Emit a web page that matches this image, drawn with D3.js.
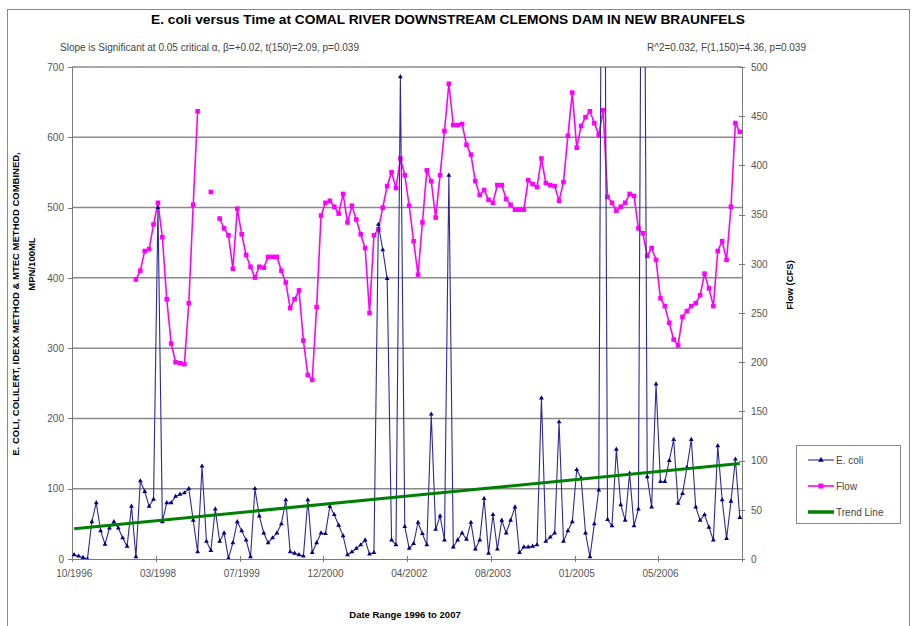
<!DOCTYPE html>
<meta charset="utf-8">
<style>
    body { margin: 0; background: #fff; }
    svg { display: block; font-family: "Liberation Sans", Arial, sans-serif; }
    .axis path, .axis line { stroke: #7a7a7a; shape-rendering: crispEdges; }
    .axis text { fill: #555; font-size: 10px; }
    .grid line { stroke: #8a8a8a; stroke-width: 1.5; }
</style>
<body>
<div id="chart-container"></div>
<script src="https://cdnjs.cloudflare.com/ajax/libs/d3/7.8.5/d3.min.js"></script>
<script>
    // E. coli samples, MPN/100mL, one per sampling date (category axis)
    var ecoli = [
        6, 4, 2, 0, 53, 80, 40, 21, 44, 53, 44, 30, 18, 75, 3, 111, 96, 75, 85, 500,
        53, 80, 80, 89, 92, 94, 100, 55, 10, 132, 25, 12, 71, 25, 37, 1, 23, 53,
        40, 27, 3, 100, 61, 37, 23, 30, 37, 50, 84, 10, 8, 6, 4, 84, 9, 23, 37,
        36, 75, 63, 48, 33, 6, 10, 15, 20, 27, 7, 9, 476, 440, 399, 27, 20, 686, 46,
        15, 22, 52, 36, 20, 206, 42, 61, 27, 546, 17, 27, 37, 28, 52, 14, 27, 86, 8,
        63, 14, 55, 37, 55, 74, 9, 17, 17, 18, 20, 229, 25, 31, 37, 195, 25, 40, 53,
        127, 115, 37, 3, 50, 98, 1400, 56, 47, 156, 77, 55, 122, 47, 71, 1400, 117, 74, 249,
        110, 110, 140, 170, 79, 93, 130, 170, 74, 55, 63, 45, 27, 161, 84, 29, 82, 142, 59
    ];
    // flow in CFS on the same dates, null where not measured
    var flow = [
        null, null, null, null, null, null, null, null, null, null, null, null, null, null,
        284, 293, 313, 315, 340, 362,
        327, 264, 219, 200, 199, 198, 260, 360, 455, null, null, 373, null, 346, 336, 329, 295, 356,
        330, 309, 297, 286, 297, 296, 307, 307, 307, 293, 281, 255, 264, 273, 222, 187, 182, 256, 349,
        362, 364, 358, 351, 371, 342, 359, 345, 330, 316, 250, 329, 335, 357, 379, 393, 377, 407, 390,
        359, 323, 289, 342, 395, 384, 347, 390, 435, 483, 441, 441, 442, 421, 411, 384, 370, 375, 365,
        362, 380, 380, 366, 360, 355, 355, 355, 385, 381, 378, 407, 382, 380, 379, 364, 383, 430, 474,
        418, 440, 449, 455, 443, 431, 456, 368, 362, 354, 358, 362, 371, 369, 336, 331, 308, 316, 304,
        265, 257, 240, 223, 217, 246, 252, 257, 260, 268, 290, 275, 257, 313, 323, 304, 358, 443, 434
    ];
    var dateLabels = ["10/1996", "03/1998", "07/1999", "12/2000", "04/2002", "08/2003", "01/2005", "05/2006"];
    var labelEvery = 19;
    // linear trend of E. coli, value at first and last sample
    var trendEnds = [43, 136];
    var leftTicks = [0, 100, 200, 300, 400, 500, 600, 700];
    var rightTicks = [0, 50, 100, 150, 200, 250, 300, 350, 400, 450, 500];

    var width = 915, height = 626;
    var plot = {left: 72, right: 742, top: 67, bottom: 559};

    var svg = d3.select("#chart-container").append("svg")
        .attr("width", width)
        .attr("height", height);

    // outer chart border
    svg.append("rect")
        .attr("x", 7.5).attr("y", 9.5)
        .attr("width", 902).attr("height", 640)
        .attr("fill", "#fff")
        .attr("stroke", "#8a8a8a");

    var n = ecoli.length;
    var x = d3.scaleBand().domain(d3.range(n)).range([plot.left, plot.right]);
    var xc = function(i) { return x(i) + x.bandwidth() / 2; };
    var xEdge = d3.scaleLinear().domain([0, n]).range([plot.left, plot.right]);
    var yL = d3.scaleLinear().domain([0, 700]).range([plot.bottom, plot.top]);
    var yR = d3.scaleLinear().domain([0, 500]).range([plot.bottom, plot.top]);

    // horizontal gridlines
    svg.append("g").attr("class", "grid")
        .selectAll("line")
        .data(leftTicks.slice(1))
        .enter().append("line")
        .attr("x1", plot.left).attr("x2", plot.right)
        .attr("y1", d => yL(d)).attr("y2", d => yL(d));

    // left axis
    svg.append("g").attr("class", "axis")
        .attr("transform", "translate(" + plot.left + ",0)")
        .call(d3.axisLeft(yL).tickValues(leftTicks).tickSize(4).tickPadding(4));

    // right axis, ticks cross the line
    var gR = svg.append("g").attr("class", "axis")
        .attr("transform", "translate(" + plot.right + ",0)")
        .call(d3.axisRight(yR).tickValues(rightTicks).tickSize(3).tickPadding(6));
    gR.selectAll(".tick line").attr("x1", -3);

    // bottom axis: tick marks at category boundaries, labels on categories
    var edgeTicks = d3.range(0, n + 1, labelEvery);
    var gB = svg.append("g").attr("class", "axis")
        .attr("transform", "translate(0," + plot.bottom + ")")
        .call(d3.axisBottom(xEdge).tickValues(edgeTicks).tickSize(3).tickFormat(""));
    gB.selectAll(".tick line").attr("y1", -3);
    var labelIdx = dateLabels.map((d, i) => i * labelEvery);
    svg.append("g").attr("class", "axis")
        .attr("transform", "translate(0," + plot.bottom + ")")
        .call(d3.axisBottom(x).tickValues(labelIdx).tickSize(0).tickPadding(11)
            .tickFormat((d, i) => dateLabels[i]))
        .call(g => g.select(".domain").remove());

    // clip series to plot area (spikes run off the top)
    svg.append("clipPath").attr("id", "plot-clip")
        .append("rect")
        .attr("x", plot.left).attr("y", plot.top)
        .attr("width", plot.right - plot.left).attr("height", plot.bottom - plot.top);
    var series = svg.append("g").attr("clip-path", "url(#plot-clip)");

    // flow line (magenta, gaps where no measurement)
    var flowLine = d3.line()
        .defined(d => d != null)
        .x((d, i) => xc(i))
        .y(d => yR(d));
    series.append("path")
        .datum(flow)
        .attr("fill", "none")
        .attr("stroke", "#ff00ff")
        .attr("stroke-width", 1.6)
        .attr("d", flowLine);
    series.append("g").selectAll("rect")
        .data(flow.map((v, i) => ({v: v, i: i})).filter(d => d.v != null))
        .enter().append("rect")
        .attr("x", d => xc(d.i) - 2.3)
        .attr("y", d => yR(d.v) - 2.3)
        .attr("width", 4.6).attr("height", 4.6)
        .attr("fill", "#ff00ff");

    // E. coli line (navy)
    var ecoliLine = d3.line()
        .x((d, i) => xc(i))
        .y(d => yL(d));
    series.append("path")
        .datum(ecoli)
        .attr("fill", "none")
        .attr("stroke", "#2a2a9a")
        .attr("stroke-width", 1.1)
        .attr("d", ecoliLine);
    series.append("g").selectAll("path")
        .data(ecoli)
        .enter().append("path")
        .attr("d", d3.symbol().type(d3.symbolTriangle).size(10))
        .attr("transform", (d, i) => "translate(" + xc(i) + "," + yL(d) + ")")
        .attr("fill", "#000080");

    // trend line
    series.append("line")
        .attr("x1", xc(0)).attr("y1", yL(trendEnds[0]))
        .attr("x2", xc(n - 1)).attr("y2", yL(trendEnds[1]))
        .attr("stroke", "#008000")
        .attr("stroke-width", 3);

    // titles
    svg.append("text")
        .attr("x", 448).attr("y", 24)
        .attr("text-anchor", "middle")
        .attr("font-size", 12.5).attr("font-weight", "bold")
        .attr("textLength", 594).attr("lengthAdjust", "spacingAndGlyphs")
        .text("E. coli versus Time at COMAL RIVER DOWNSTREAM CLEMONS DAM IN NEW BRAUNFELS");
    svg.append("text")
        .attr("x", 60).attr("y", 51)
        .attr("font-size", 10).attr("fill", "#444")
        .text("Slope is Significant at 0.05 critical α, β=+0.02, t(150)=2.09, p=0.039");
    svg.append("text")
        .attr("x", 806).attr("y", 51)
        .attr("text-anchor", "end")
        .attr("font-size", 10).attr("fill", "#444")
        .text("R^2=0.032, F(1,150)=4.36, p=0.039");

    svg.append("text")
        .attr("x", 405).attr("y", 618)
        .attr("text-anchor", "middle")
        .attr("font-size", 9.5).attr("font-weight", "bold")
        .text("Date Range 1996 to 2007");

    svg.append("text")
        .attr("transform", "translate(19,304) rotate(-90)")
        .attr("text-anchor", "middle")
        .attr("font-size", 9.5).attr("font-weight", "bold")
        .text("E. COLI, COLILERT, IDEXX METHOD & MTEC METHOD COMBINED,");
    svg.append("text")
        .attr("transform", "translate(35,264) rotate(-90)")
        .attr("text-anchor", "middle")
        .attr("font-size", 9.5).attr("font-weight", "bold")
        .text("MPN/100ML");

    svg.append("text")
        .attr("transform", "translate(793,285) rotate(-90)")
        .attr("text-anchor", "middle")
        .attr("font-size", 9.5).attr("font-weight", "bold")
        .text("Flow (CFS)");

    // legend
    var legend = svg.append("g");
    legend.append("rect")
        .attr("x", 796.5).attr("y", 445.5)
        .attr("width", 104).attr("height", 78)
        .attr("fill", "#fff").attr("stroke", "#8a8a8a");
    var legendItems = [
        {name: "E. coli", color: "#2a2a9a", w: 1.1, mark: "tri"},
        {name: "Flow", color: "#ff00ff", w: 1.6, mark: "sq"},
        {name: "Trend Line", color: "#008000", w: 3.5, mark: null}
    ];
    var li = legend.selectAll("g.item")
        .data(legendItems)
        .enter().append("g")
        .attr("transform", (d, i) => "translate(0," + (460 + i * 26) + ")");
    li.append("line")
        .attr("x1", 808).attr("x2", 834)
        .attr("stroke", d => d.color)
        .attr("stroke-width", d => d.w);
    li.filter(d => d.mark === "tri").append("path")
        .attr("d", d3.symbol().type(d3.symbolTriangle).size(14))
        .attr("transform", "translate(821,0)")
        .attr("fill", "#000080");
    li.filter(d => d.mark === "sq").append("rect")
        .attr("x", 818.5).attr("y", -2.5)
        .attr("width", 5).attr("height", 5)
        .attr("fill", "#ff00ff");
    li.append("text")
        .attr("x", 836).attr("y", 3.5)
        .attr("font-size", 10).attr("fill", "#444")
        .text(d => d.name);
</script>
</body>
